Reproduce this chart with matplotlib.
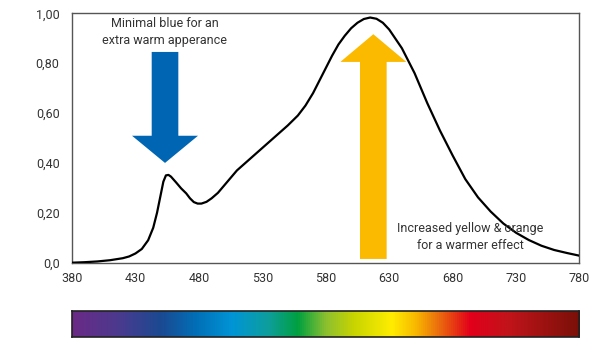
import numpy as np
import matplotlib.pyplot as plt
from matplotlib.colors import LinearSegmentedColormap
from matplotlib.patches import FancyArrow

plt.rcParams['font.family'] = ['Roboto', 'DejaVu Sans']

# spectrum (wavelength nm, relative intensity)
wavelength = [380, 390, 400, 410, 420, 425, 430, 435, 440, 444, 447, 450, 452, 454,
              456, 458, 462, 466, 470, 473, 476, 479, 482, 486, 490, 495, 500, 510,
              520, 530, 540, 550, 558, 564, 570, 575, 580, 585, 590, 595, 600, 605,
              610, 615, 620, 625, 630, 640, 650, 660, 670, 680, 690, 700, 710, 720,
              730, 740, 750, 760, 770, 780]
intensity = [0.0, 0.002, 0.005, 0.01, 0.018, 0.025, 0.037, 0.055, 0.09, 0.14, 0.2,
             0.275, 0.325, 0.35, 0.352, 0.345, 0.322, 0.298, 0.278, 0.258, 0.243,
             0.237, 0.237, 0.244, 0.258, 0.28, 0.31, 0.37, 0.415, 0.46, 0.505, 0.55,
             0.59, 0.63, 0.68, 0.73, 0.78, 0.83, 0.875, 0.91, 0.94, 0.962, 0.977,
             0.983, 0.978, 0.962, 0.935, 0.86, 0.76, 0.64, 0.53, 0.43, 0.335, 0.262,
             0.205, 0.157, 0.12, 0.091, 0.068, 0.051, 0.039, 0.028]

xticks = [380, 430, 480, 530, 580, 630, 680, 730, 780]
yticks = [0.0, 0.2, 0.4, 0.6, 0.8, 1.0]
ytick_labels = ['0,0', '0,20', '0,40', '0,60', '0,80', '1,00']

# colour stops of the rainbow bar
bar_nm = [380, 416, 450, 478, 506, 534, 558, 580, 602, 632, 651, 669, 694, 725, 780]
bar_colors = ['#6a2a86', '#4b3a8e', '#1a4a92', '#0070b8', '#0095d6', '#0e9e9e',
              '#00a040', '#8cc030', '#c8d400', '#ffed00', '#f8b800', '#eb6e0d',
              '#e2001a', '#c0141a', '#7a1008']

fig = plt.figure(figsize=(6.14, 3.38), dpi=100)
ax = fig.add_axes([0.1173, 0.2228, 0.8265, 0.7379])

ax.plot(wavelength, intensity, color='black', lw=1.6, zorder=3)
ax.set_xlim(380, 780)
ax.set_ylim(0, 1.0)
ax.set_xticks(xticks)
ax.set_yticks(yticks)
ax.set_yticklabels(ytick_labels)
ax.tick_params(length=0, labelsize=9, colors='#333333')
ax.tick_params(axis='y', pad=9)
ax.tick_params(axis='x', pad=7)
for s in ax.spines.values():
    s.set_color('#555555')
    s.set_linewidth(1.0)

# arrows
ax.add_patch(FancyArrow(453.3, 0.845, 0, -0.445, width=21, head_width=52,
                        head_length=0.109, length_includes_head=True,
                        color='#0066b3', lw=0, zorder=2))
ax.add_patch(FancyArrow(617.5, 0.015, 0, 0.901, width=21, head_width=52,
                        head_length=0.111, length_includes_head=True,
                        color='#fbb900', lw=0, zorder=2))

ax.text(453, 0.925, 'Minimal blue for an\nextra warm apperance', ha='center', va='center',
        fontsize=9, color='#333333', linespacing=1.4)
ax.text(694, 0.105, 'Increased yellow & orange\nfor a warmer effect', ha='center', va='center',
        fontsize=9, color='#333333', linespacing=1.4, zorder=4)

# rainbow bar
bax = fig.add_axes([0.1173, 0.003, 0.8265, 0.077])
cmap = LinearSegmentedColormap.from_list(
    'spec', list(zip([(n - 380) / 400 for n in bar_nm], bar_colors)))
bax.imshow(np.linspace(0, 1, 512)[None, :], aspect='auto', cmap=cmap,
           extent=[380, 780, 0, 1])
bax.set_xticks([])
bax.set_yticks([])
for s in bax.spines.values():
    s.set_color('#222222')
    s.set_linewidth(1.2)

fig.savefig('out.png', dpi=100)
